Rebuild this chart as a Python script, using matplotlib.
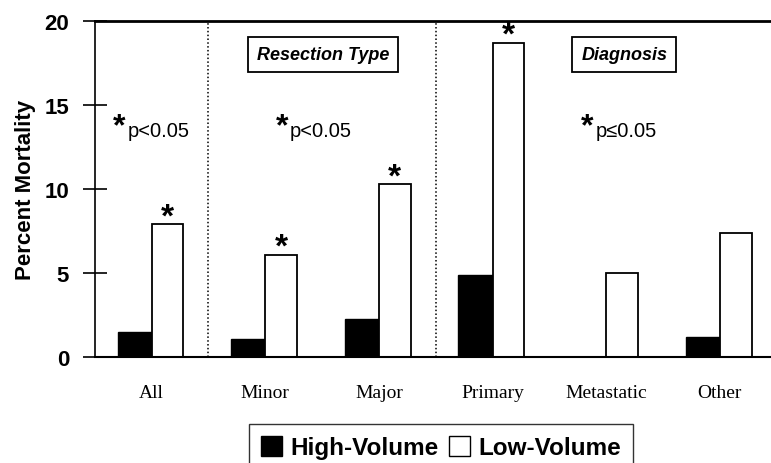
import matplotlib.pyplot as plt
import numpy as np
from matplotlib.patches import Patch

# percent mortality by hospital volume
categories = ["All", "Minor", "Major", "Primary", "Metastatic", "Other"]
high_volume = [1.5, 1.1, 2.3, 4.9, 0.0, 1.2]
low_volume = [7.9, 6.1, 10.3, 18.7, 5.0, 7.4]
significant = [True, True, True, True, False, False]
p_notes = [(-0.33, "p<0.05"), (1.10, "p<0.05"), (3.79, "p\u22640.05")]
section_titles = [(1.51, "Resection Type"), (4.16, "Diagnosis")]

SANS = "Liberation Sans"
SERIF = "Liberation Serif"
W_HIGH = 0.3
W_LOW = 0.28

fig = plt.figure(figsize=(7.71, 4.64), dpi=100)
ax = fig.add_axes([0.123, 0.228, 0.877, 0.725])

x = np.arange(len(categories))
ax.bar(x - W_HIGH / 2, high_volume, W_HIGH, color="black", edgecolor="black", linewidth=1)
ax.bar(x + W_LOW / 2, low_volume, W_LOW, color="white", edgecolor="black", linewidth=1.3)

for xi, v, s in zip(x, low_volume, significant):
    if s:
        ax.text(xi + W_LOW / 2, v - 0.08, "*", ha="center", va="baseline",
                fontsize=24, family=SANS, weight="bold")

for xp, note in p_notes:
    ax.text(xp - 0.01, 13.25, "*", ha="left", va="baseline", fontsize=23, family=SANS, weight="bold")
    ax.text(xp + 0.115, 13.15, note, ha="left", va="baseline", fontsize=14.5, family=SANS)

for xp, title in section_titles:
    ax.text(xp, 18.0, title, ha="center", va="center", fontsize=13,
            family=SANS, weight="bold", style="italic",
            bbox=dict(boxstyle="square,pad=0.5", facecolor="white",
                      edgecolor="black", linewidth=1.3))

# dotted lines between groups
for xv in [0.5, 2.5]:
    ax.axvline(xv, ymin=0, ymax=1, color="black", linestyle=(0, (1, 1.5)), linewidth=1.1)

ax.set_xlim(-0.5, 5.45)
ax.set_ylim(0, 20)
ax.set_yticks([0, 5, 10, 15, 20])
ax.set_xticks(x)
ax.set_xticklabels(categories, family=SERIF, fontsize=14)
ax.tick_params(axis="x", length=0, pad=19)
ax.tick_params(axis="y", direction="inout", length=17, width=1.2, pad=10)
for lbl in ax.get_yticklabels():
    lbl.set_family(SANS)
    lbl.set_fontweight("bold")
    lbl.set_fontsize(16)

ax.spines["right"].set_visible(False)
ax.spines["top"].set_linewidth(2)
ax.spines["left"].set_linewidth(1.2)
ax.spines["bottom"].set_linewidth(1.5)

ax.set_ylabel("Percent Mortality", family=SANS, weight="bold", fontsize=16)
ax.yaxis.set_label_coords(-0.103, 0.5)
ax.yaxis.label.set_va("center")

handles = [Patch(facecolor="black", edgecolor="black"),
           Patch(facecolor="white", edgecolor="black")]
fig.legend(handles, ["High-Volume", "Low-Volume"], loc="upper center",
           bbox_to_anchor=(0.572, 0.084), ncol=2, frameon=True, fancybox=False,
           edgecolor="black", handlelength=0.85, handleheight=0.85,
           handletextpad=0.33, columnspacing=0.45, borderpad=0.5, borderaxespad=0,
           prop=dict(family=SANS, weight="bold", size=17.5))

fig.savefig("out.png", dpi=100)
